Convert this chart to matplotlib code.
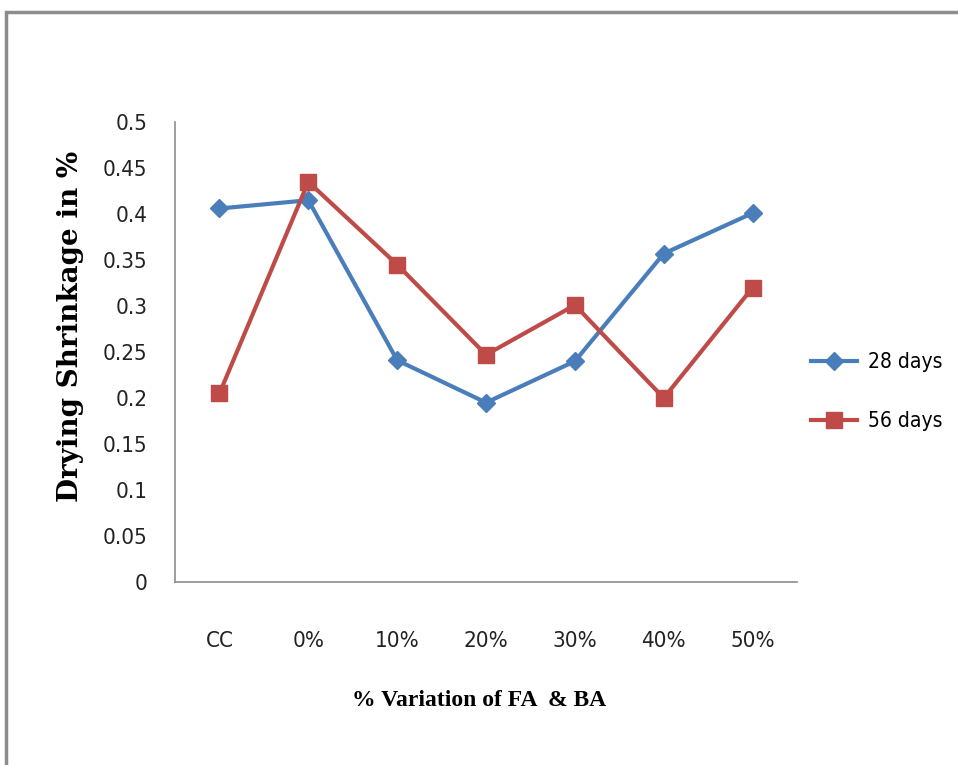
import matplotlib
matplotlib.use('Agg')
import matplotlib.pyplot as plt
from matplotlib.patches import Rectangle

categories = ['CC', '0%', '10%', '20%', '30%', '40%', '50%']
days28 = [0.406, 0.415, 0.241, 0.195, 0.240, 0.357, 0.401]
days56 = [0.205, 0.435, 0.345, 0.247, 0.301, 0.200, 0.320]
yticks = [0, 0.05, 0.1, 0.15, 0.2, 0.25, 0.3, 0.35, 0.4, 0.45, 0.5]
ytick_labels = ['0', '0.05', '0.1', '0.15', '0.2', '0.25', '0.3', '0.35', '0.4', '0.45', '0.5']

blue = '#4A7EBB'
red = '#BE4B48'

fig = plt.figure(figsize=(9.58, 7.65), dpi=100)
# outer chart border
fig.patches.append(Rectangle((0.006, -0.05), 1.1, 1.034, transform=fig.transFigure,
                             fill=False, edgecolor='#8c8c8c', linewidth=2.5))

ax = fig.add_axes([0.1827, 0.2392, 0.6493, 0.6013])
x = list(range(len(categories)))
ax.plot(x, days28, color=blue, linewidth=3, marker='D', markersize=9, label='28 days')
ax.plot(x, days56, color=red, linewidth=3, marker='s', markersize=11, label='56 days')

ax.set_xlim(-0.5, len(categories) - 0.5)
ax.set_ylim(0, 0.5)
ax.set_xticks(x)
ax.set_xticklabels(categories, family='DejaVu Sans', stretch='condensed', fontsize=16, color='#222222')
ax.set_yticks(yticks)
ax.set_yticklabels(ytick_labels, family='DejaVu Sans', stretch='condensed', fontsize=16, color='#222222')
ax.tick_params(axis='both', length=0)
ax.tick_params(axis='x', pad=35)
ax.tick_params(axis='y', pad=20)
for s in ['top', 'right']:
    ax.spines[s].set_visible(False)
for s in ['left', 'bottom']:
    ax.spines[s].set_color('#8c8c8c')
    ax.spines[s].set_linewidth(1.2)

fig.text(0.074, 0.573, 'Drying Shrinkage in %', rotation=90, ha='center', va='center',
         family='DejaVu Serif', fontweight='bold', fontsize=20)
fig.text(0.50, 0.084, '% Variation of FA  & BA', ha='center', va='center',
         family='Liberation Serif', fontweight='bold', fontsize=17)

leg = fig.legend(loc='center left', bbox_to_anchor=(0.8275, 0.488), frameon=False,
                 prop={'family': 'DejaVu Sans', 'stretch': 'condensed', 'size': 15},
                 handlelength=2.2, handletextpad=0.5, labelspacing=1.85)

fig.savefig('out.png', dpi=100)
